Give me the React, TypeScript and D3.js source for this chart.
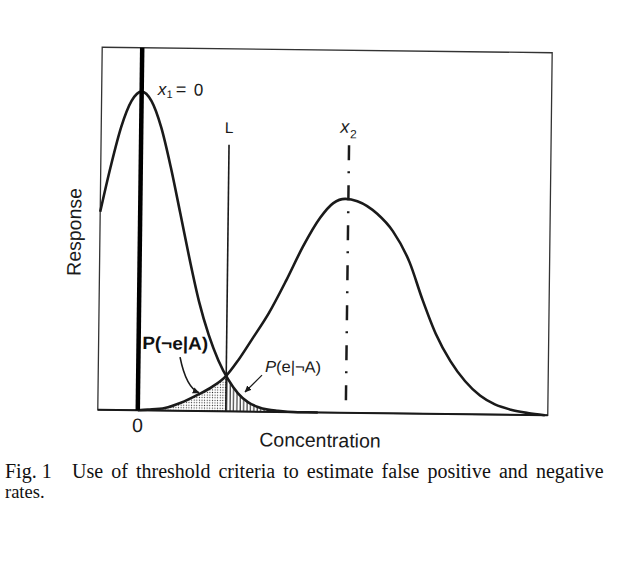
import React from "react";
import * as d3 from "d3";

// Blank (x1 = 0) response curve
const curve1X = [-1, -0.75, -0.5, -0.25, 0, 0.25, 0.5, 0.75, 1, 1.25, 1.5, 1.75, 2, 2.25, 2.5, 2.75, 3, 3.25, 3.5, 3.75, 4, 4.5];
const curve1Y = [54.6, 67.2, 78.1, 85.3, 87.9, 85.3, 78.1, 67.2, 54.6, 41.8, 30.1, 21.0, 14.0, 8.8, 5.0, 2.6, 1.3, 0.6, 0.3, 0.1, 0, 0];

// Analyte (x2) response curve
const curve2X = [0, 0.25, 0.675, 1.075, 1.5, 1.85, 2.2, 2.5, 2.825, 3.25, 3.675, 4.075, 4.5, 4.825, 5.125, 5.425, 5.925, 6.325, 6.75, 7.075, 7.425, 7.8, 8.175, 8.55, 8.925, 9.325, 9.75, 10.175];
const curve2Y = [0, 0.2, 0.7, 2.2, 4.5, 6.7, 9.8, 14.2, 19.8, 27.3, 36.4, 45.6, 53.7, 57.8, 59.0, 58.4, 55.0, 50.2, 41.7, 31.7, 22.1, 14.6, 9.1, 5.2, 2.8, 1.4, 0.55, 0];

const meanX1 = 0;
const meanX2 = 5.2;
const thresholdL = 2.2;
const xTickValues = [0];
const xTickLabels = ["0"];
const xDomain = [-1, 10.25];
const yDomain = [0, 100];

const xAxisTitle = "Concentration";
const yAxisTitle = "Response";
const captionFig = "Fig. 1";
const captionLine1 = "Use of threshold criteria to estimate false positive and negative";
const captionLine2 = "rates.";

type P = [number, number];

export default function App() {
  const W = 620;
  const H = 573;
  const x = d3.scaleLinear().domain(xDomain).range([100, 550]);
  const y = d3.scaleLinear().domain(yDomain).range([412.5, 50]);

  const pts1: P[] = curve1X.map((v, i) => [v, curve1Y[i]]);
  const pts2: P[] = curve2X.map((v, i) => [v, curve2Y[i]]);

  const line = d3
    .line<P>()
    .x((d) => x(d[0]))
    .y((d) => y(d[1]))
    .curve(d3.curveMonotoneX);
  const area = d3
    .area<P>()
    .x((d) => x(d[0]))
    .y0(y(0))
    .y1((d) => y(d[1]))
    .curve(d3.curveMonotoneX);

  const xL = x(thresholdL);
  const x0 = x(meanX1);
  const x2 = x(meanX2);

  // arrows (data coordinates)
  const a1s: P = [1.04, 14.8];
  const a1e: P = [1.525, 5.0];
  const a1c: P = [1.2, 6.5];
  const arrow1 = d3.path();
  arrow1.moveTo(x(a1s[0]), y(a1s[1]));
  arrow1.quadraticCurveTo(x(a1c[0]), y(a1c[1]), x(a1e[0]), y(a1e[1]));

  const a2s: P = [3.095, 10.1];
  const a2e: P = [2.675, 5.4];

  const font = "'Liberation Sans', Arial, Helvetica, sans-serif";
  const serif = "'Liberation Serif', 'Times New Roman', serif";
  const ink = "#1a1a1a";

  return (
    <svg
      width={W}
      height={H}
      viewBox={`0 0 ${W} ${H}`}
      style={{ position: "absolute", left: 0, top: 0, background: "#fff" }}
    >
      <defs>
        <pattern id="dots" width="2.6" height="2.6" patternUnits="userSpaceOnUse">
          <circle cx="1.3" cy="1.3" r="0.6" fill="#222" />
        </pattern>
        <pattern id="vhatch" width="3.4" height="4" patternUnits="userSpaceOnUse">
          <line x1="1" y1="0" x2="1" y2="4" stroke="#111" strokeWidth="1" />
        </pattern>
        <clipPath id="leftOfL">
          <rect x={x(xDomain[0])} y={y(yDomain[1])} width={xL - x(xDomain[0])} height={y(0) - y(yDomain[1])} />
        </clipPath>
        <clipPath id="rightOfL">
          <rect x={xL} y={y(yDomain[1])} width={x(xDomain[1]) - xL} height={y(0) - y(yDomain[1])} />
        </clipPath>
        <marker
          id="arrowHead"
          viewBox="0 0 10 10"
          refX="9"
          refY="5"
          markerWidth="7"
          markerHeight="7"
          markerUnits="userSpaceOnUse"
          orient="auto"
        >
          <path d="M0,0.5 L10,5 L0,9.5 z" fill={ink} />
        </marker>
      </defs>

      <g transform="rotate(0.7 325 230)">
        {/* shaded regions */}
        <path d={area(pts2) || ""} fill="url(#dots)" clipPath="url(#leftOfL)" />
        <path d={area(pts1) || ""} fill="url(#vhatch)" clipPath="url(#rightOfL)" />

        {/* frame */}
        <rect
          x={x(xDomain[0])}
          y={y(yDomain[1])}
          width={x(xDomain[1]) - x(xDomain[0])}
          height={y(0) - y(yDomain[1])}
          fill="none"
          stroke="#333"
          strokeWidth={1.3}
        />
        <line x1={x(xDomain[0])} x2={x(xDomain[1])} y1={y(0)} y2={y(0)} stroke={ink} strokeWidth={2} />

        {/* threshold L */}
        <line x1={xL} x2={xL} y1={146} y2={y(0)} stroke={ink} strokeWidth={1.6} />
        {/* x2 dash-dot */}
        <line
          x1={x2}
          x2={x2}
          y1={145}
          y2={405}
          stroke={ink}
          strokeWidth={2.5}
          strokeDasharray="15,11,2,12"
        />

        {/* curves */}
        <path d={line(pts1) || ""} fill="none" stroke={ink} strokeWidth={2.6} strokeLinejoin="round" />
        <path d={line(pts2) || ""} fill="none" stroke={ink} strokeWidth={2.6} strokeLinejoin="round" />

        {/* x1 = 0 thick line */}
        <line x1={x0} x2={x0} y1={y(yDomain[1])} y2={y(0)} stroke="#000" strokeWidth={4.5} />

        {/* labels */}
        <text fontFamily={font} fill={ink} fontSize={17}>
          <tspan x={x0 + 16} y={97} fontStyle="italic">x</tspan>
          <tspan x={x0 + 25} y={100} fontSize={11}>1</tspan>
          <tspan x={x0 + 34} y={97} fontSize={18}>=</tspan>
          <tspan x={x0 + 52} y={97}>0</tspan>
        </text>
        <text x={xL} y={134.2} fontFamily={font} fontSize={15.5} fill={ink} textAnchor="middle">
          L
        </text>
        <text fontFamily={font} fill={ink} fontSize={18}>
          <tspan x={x2 - 9} y={132.7} fontStyle="italic">x</tspan>
          <tspan x={x2 + 1} y={138} fontSize={12}>2</tspan>
        </text>

        <text
          x={x(0.09)}
          y={y(16.9)}
          fontFamily={font}
          fontSize={18}
          fontWeight="bold"
          fill="#111"
          textLength={66}
          lengthAdjust="spacingAndGlyphs"
        >
          P(¬e|A)
        </text>
        <text x={x(3.17)} y={y(11.0)} fontFamily={font} fontSize={16} fill={ink} textLength={56} lengthAdjust="spacingAndGlyphs">
          <tspan fontStyle="italic">P</tspan>(e|¬A)
        </text>

        <path d={arrow1.toString()} fill="none" stroke={ink} strokeWidth={1.6} markerEnd="url(#arrowHead)" />
        <line
          x1={x(a2s[0])}
          y1={y(a2s[1])}
          x2={x(a2e[0])}
          y2={y(a2e[1])}
          stroke={ink}
          strokeWidth={1.2}
          markerEnd="url(#arrowHead)"
        />

        {/* axis tick + titles */}
        {xTickValues.map((v, i) => (
          <text key={i} x={x(v)} y={434.3} fontFamily={font} fontSize={19.5} fill={ink} textAnchor="middle">
            {xTickLabels[i]}
          </text>
        ))}
        <text x={322.6} y={447} fontFamily={font} fontSize={19.5} fill={ink} textAnchor="middle">
          {xAxisTitle}
        </text>
        <text
          transform={`translate(81,235) rotate(-90)`}
          fontFamily={font}
          fontSize={19.5}
          fill={ink}
          textAnchor="middle"
        >
          {yAxisTitle}
        </text>
      </g>

      {/* caption */}
      <text x={5} y={478} fontFamily={serif} fontSize={20} fill="#111">
        {captionFig}
      </text>
      <text x={72} y={478} fontFamily={serif} fontSize={20} fill="#111" wordSpacing={3.1}>
        {captionLine1}
      </text>
      <text x={5} y={498} fontFamily={serif} fontSize={18.5} fill="#111">
        {captionLine2}
      </text>
    </svg>
  );
}
